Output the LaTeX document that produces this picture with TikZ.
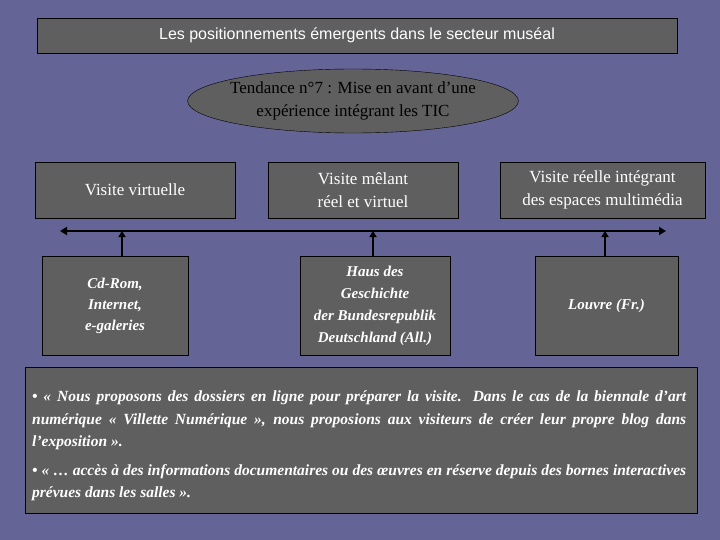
\documentclass[tikz,border=0pt]{standalone}
\usepackage{fontspec}
\setmainfont{Liberation Serif}
\newfontfamily\arialf{Liberation Sans}
\usetikzlibrary{arrows.meta,shapes.geometric}
\definecolor{bg}{RGB}{100,100,150}
\definecolor{bx}{RGB}{95,95,95}
\tikzset{
 box/.style={draw=black,fill=bx,text=white,inner sep=0pt,align=center},
 conn/.style={line width=2.5pt,black,-{Triangle[length=6pt,width=7pt]}},
}
\begin{document}
\begin{tikzpicture}[x=1pt,y=-1pt]
\fill[bg] (0,0) rectangle (720,540);
\useasboundingbox (0,0) rectangle (720,540);
\node[box,minimum width=640,minimum height=35,font=\arialf\fontsize{16}{18}\selectfont] (title) at (357,35.5) {Les positionnements émergents dans le secteur muséal};
\node[box,ellipse,minimum width=312,minimum height=64,inner sep=-6pt,text=black,font=\fontsize{17}{23}\selectfont] (tend) at (353,101) {Tendance n°7 : Mise en avant d’une\\expérience intégrant les TIC};
\node[box,minimum width=200,minimum height=56,font=\fontsize{17}{20}\selectfont] (t1) at (135,190) {Visite virtuelle};
\node[box,minimum width=190,minimum height=56,font=\fontsize{17}{23}\selectfont] (t2) at (363,190) {Visite mêlant\\réel et virtuel};
\node[box,minimum width=205,minimum height=56,font=\fontsize{17}{23}\selectfont] (t3) at (602.5,190) {Visite réelle intégrant\\des espaces multimédia};
\coordinate (l) at (60,231);
\coordinate (r) at (666,231);
\draw[line width=2.5pt,{Triangle[length=7pt,width=8pt]}-{Triangle[length=7pt,width=8pt]}] (l) -- (r);
\node[box,minimum width=146,minimum height=99,font=\bfseries\itshape\fontsize{15}{21}\selectfont] (b1) at (115,305.5) {Cd-Rom,\\Internet,\\e-galeries};
\node[box,minimum width=150,minimum height=99,font=\bfseries\itshape\fontsize{15}{22}\selectfont] (b2) at (375,305.5) {Haus des\\Geschichte\\der Bundesrepublik\\Deutschland (All.)};
\node[box,minimum width=143,minimum height=99,font=\bfseries\itshape\fontsize{15}{17}\selectfont] (b3) at (606.5,305.5) {Louvre (Fr.)};
\draw[conn] (b1.north -| 122,0) -- (122,231);
\draw[conn] (b2.north -| 373,0) -- (373,231);
\draw[conn] (b3.north -| 605,0) -- (605,231);
\node[box,minimum width=672,minimum height=146,anchor=north west] (txt) at (25,367) {};
\node[text=white,text width=654,inner sep=0pt,align=justify,anchor=north west,font=\bfseries\itshape\fontsize{15.5}{22.5}\selectfont] (t) at (32,391) {•\ «~Nous proposons des dossiers en ligne pour préparer la visite. Dans le cas de la biennale d’art numérique «~Villette Numérique~», nous proposions aux visiteurs de créer leur propre blog dans l’exposition~».\par\vspace{6pt}•\ «~… accès à des informations documentaires ou des œuvres en réserve depuis des bornes interactives prévues dans les salles~».};
\end{tikzpicture}
\end{document}
